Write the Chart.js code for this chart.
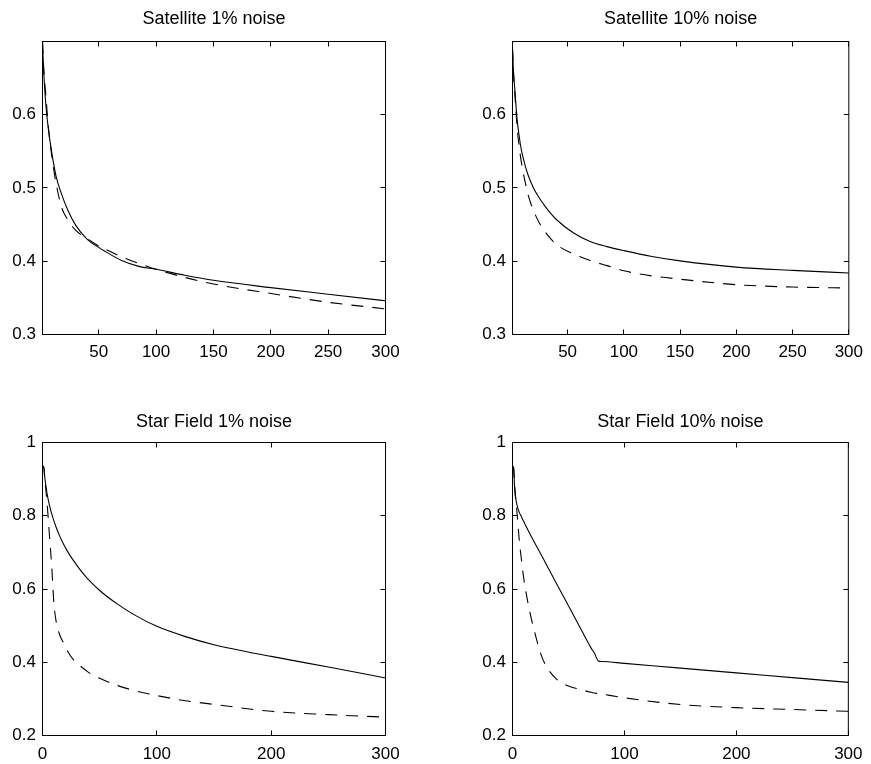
<!DOCTYPE html>
<html>
<head>
<meta charset="utf-8">
<script src="https://cdn.jsdelivr.net/npm/chart.js@4/dist/chart.umd.min.js"></script>
<style>
  body { margin: 0; background: #fff; }
  #wrap { position: relative; width: 871px; height: 764px; }
  canvas { position: absolute; }
</style>
</head>
<body>
<div id="wrap">
  <canvas id="satLow" width="435" height="380" style="left:0px;top:0px"></canvas>
  <canvas id="satHigh" width="431" height="380" style="left:440px;top:0px"></canvas>
  <canvas id="starLow" width="435" height="364" style="left:0px;top:400px"></canvas>
  <canvas id="starHigh" width="431" height="364" style="left:440px;top:400px"></canvas>
</div>
<script>
// Satellite 1% noise
const satLowX = [1, 2, 4, 6, 9, 13, 18, 23, 30, 40, 50, 55, 70, 85, 100, 125, 150, 200, 250, 300];
const satLowSolid = [0.700, 0.660, 0.612, 0.582, 0.549, 0.515, 0.490, 0.470, 0.449, 0.430, 0.419, 0.414, 0.401, 0.393, 0.389, 0.381, 0.374, 0.364, 0.355, 0.346];
const satLowDashed = [0.700, 0.665, 0.625, 0.585, 0.545, 0.505, 0.472, 0.457, 0.442, 0.431, 0.421, 0.417, 0.406, 0.397, 0.389, 0.378, 0.369, 0.356, 0.344, 0.335];

// Satellite 10% noise
const satHighX = [1, 2, 3, 5, 7, 9, 12, 15, 20, 25, 30, 40, 55, 70, 85, 100, 125, 150, 200, 250, 300];
const satHighSolid = [0.690, 0.655, 0.636, 0.595, 0.570, 0.551, 0.532, 0.517, 0.499, 0.486, 0.475, 0.457, 0.439, 0.427, 0.420, 0.4145, 0.4065, 0.4005, 0.392, 0.3875, 0.384];
const satHighDashed = [0.690, 0.655, 0.630, 0.585, 0.556, 0.534, 0.510, 0.490, 0.468, 0.452, 0.440, 0.423, 0.410, 0.401, 0.394, 0.387, 0.380, 0.3755, 0.368, 0.3648, 0.3635];

// Star Field 1% noise
const starLowX = [0, 1, 2, 4, 6, 8, 10, 12, 15, 18, 22, 27, 33, 40, 50, 65, 80, 100, 125, 150, 200, 250, 300];
const starLowSolid = [0.930, 0.935, 0.905, 0.860, 0.830, 0.806, 0.786, 0.768, 0.745, 0.725, 0.702, 0.678, 0.652, 0.626, 0.596, 0.560, 0.530, 0.498, 0.470, 0.448, 0.416, 0.387, 0.357];
const starLowDashed = [0.930, 0.935, 0.900, 0.835, 0.750, 0.665, 0.560, 0.510, 0.475, 0.455, 0.430, 0.407, 0.390, 0.373, 0.356, 0.337, 0.323, 0.309, 0.295, 0.285, 0.266, 0.257, 0.250];

// Star Field 10% noise
const starHighX = [0, 1, 2, 4, 6, 8, 10, 13, 16, 20, 25, 30, 40, 50, 60, 70, 73, 77, 80, 100, 150, 200, 250, 300];
const starHighSolid = [0.935, 0.930, 0.870, 0.830, 0.810, 0.797, 0.784, 0.766, 0.748, 0.725, 0.697, 0.668, 0.611, 0.554, 0.497, 0.440, 0.4257, 0.403, 0.4022, 0.397, 0.384, 0.371, 0.358, 0.345];
const starHighDashed = [0.935, 0.930, 0.880, 0.810, 0.735, 0.680, 0.630, 0.575, 0.530, 0.480, 0.425, 0.390, 0.352, 0.335, 0.326, 0.318, 0.316, 0.3145, 0.313, 0.303, 0.2845, 0.276, 0.271, 0.266];

// tick labels
const satXTicks = [50, 100, 150, 200, 250, 300];
const satYTicks = [0.3, 0.4, 0.5, 0.6];
const starXTicks = [0, 100, 200, 300];
const starYTicks = [0.2, 0.4, 0.6, 0.8, 1];

const FONT = "'Liberation Sans', Arial, Helvetica, sans-serif";
const TICK = 5;

// matlab style box with inward ticks on all four sides
const boxPlugin = {
  id: "matlabBox",
  afterDatasetsDraw(chart) {
    const { ctx, chartArea: a } = chart;
    const x = chart.scales.x, y = chart.scales.y;
    ctx.save();
    ctx.strokeStyle = "#000";
    ctx.lineWidth = 1;
    ctx.beginPath();
    x.ticks.forEach((t) => {
      const px = Math.floor(x.getPixelForValue(t.value)) + 0.5;
      ctx.moveTo(px, a.bottom); ctx.lineTo(px, a.bottom - TICK);
      ctx.moveTo(px, a.top); ctx.lineTo(px, a.top + TICK);
    });
    y.ticks.forEach((t) => {
      const py = Math.floor(y.getPixelForValue(t.value)) + 0.5;
      ctx.moveTo(a.left, py); ctx.lineTo(a.left + TICK, py);
      ctx.moveTo(a.right, py); ctx.lineTo(a.right - TICK, py);
    });
    ctx.stroke();
    ctx.strokeRect(a.left, a.top, a.right - a.left, a.bottom - a.top);
    ctx.restore();
  },
};

function toPoints(xs, ys) {
  return xs.map((v, i) => ({ x: v, y: ys[i] }));
}

function makeChart(id, p) {
  const ctx = document.getElementById(id).getContext("2d");
  new Chart(ctx, {
    type: "line",
    data: {
      datasets: [
        {
          data: toPoints(p.xs, p.solid),
          borderColor: "#000",
          borderWidth: 1.1,
          pointRadius: 0,
          cubicInterpolationMode: "monotone",
        },
        {
          data: toPoints(p.xs, p.dashed),
          borderColor: "#000",
          borderWidth: 1.1,
          borderDash: [12, 9],
          pointRadius: 0,
          cubicInterpolationMode: "monotone",
        },
      ],
    },
    options: {
      responsive: false,
      animation: false,
      devicePixelRatio: 1,
      layout: { padding: { left: 0, right: p.padRight, top: 0, bottom: 0 } },
      plugins: {
        legend: { display: false },
        tooltip: { enabled: false },
        title: {
          display: true,
          text: p.title,
          fullSize: false,
          color: "#000",
          font: { family: FONT, size: 18, weight: "normal" },
          padding: p.titlePad,
        },
      },
      scales: {
        x: {
          type: "linear",
          min: p.xMin,
          max: 300,
          grid: { display: false, drawTicks: false, tickLength: 0 },
          border: { display: false },
          ticks: {
            color: "#000",
            font: { family: FONT, size: 17 },
            padding: p.xPad,
            maxRotation: 0,
            autoSkip: false,
            callback: (v) => String(v),
          },
          afterBuildTicks: (s) => { s.ticks = p.xTicks.map((v) => ({ value: v })); },
          afterFit: (s) => { s.height = p.xHeight; },
        },
        y: {
          min: p.yMin,
          max: p.yMax,
          grid: { display: false, drawTicks: false, tickLength: 0 },
          border: { display: false },
          ticks: {
            color: "#000",
            font: { family: FONT, size: 17 },
            padding: 6.5,
            autoSkip: false,
            callback: (v) => String(v),
          },
          afterBuildTicks: (s) => { s.ticks = p.yTicks.map((v) => ({ value: v })); },
          afterFit: (s) => { s.width = p.yWidth; },
        },
      },
    },
    plugins: [boxPlugin],
  });
}

makeChart("satLow", {
  title: "Satellite 1% noise", xs: satLowX, solid: satLowSolid, dashed: satLowDashed,
  xMin: 1, yMin: 0.3, yMax: 0.7, xTicks: satXTicks, yTicks: satYTicks,
  yWidth: 42.5, padRight: 49.5, xHeight: 45.5, xPad: 8, titlePad: { top: 8, bottom: 11.9 },
});
makeChart("satHigh", {
  title: "Satellite 10% noise", xs: satHighX, solid: satHighSolid, dashed: satHighDashed,
  xMin: 1, yMin: 0.3, yMax: 0.7, xTicks: satXTicks, yTicks: satYTicks,
  yWidth: 72.5, padRight: 16.5, xHeight: 45.5, xPad: 8, titlePad: { top: 8, bottom: 11.9 },
});
makeChart("starLow", {
  title: "Star Field 1% noise", xs: starLowX, solid: starLowSolid, dashed: starLowDashed,
  xMin: 0, yMin: 0.2, yMax: 1, xTicks: starXTicks, yTicks: starYTicks,
  yWidth: 42.5, padRight: 49.5, xHeight: 28.5, xPad: 8.5, titlePad: { top: 10.9, bottom: 10 },
});
makeChart("starHigh", {
  title: "Star Field 10% noise", xs: starHighX, solid: starHighSolid, dashed: starHighDashed,
  xMin: 0, yMin: 0.2, yMax: 1, xTicks: starXTicks, yTicks: starYTicks,
  yWidth: 72.5, padRight: 16.5, xHeight: 28.5, xPad: 8.5, titlePad: { top: 10.9, bottom: 10 },
});
</script>
</body>
</html>
